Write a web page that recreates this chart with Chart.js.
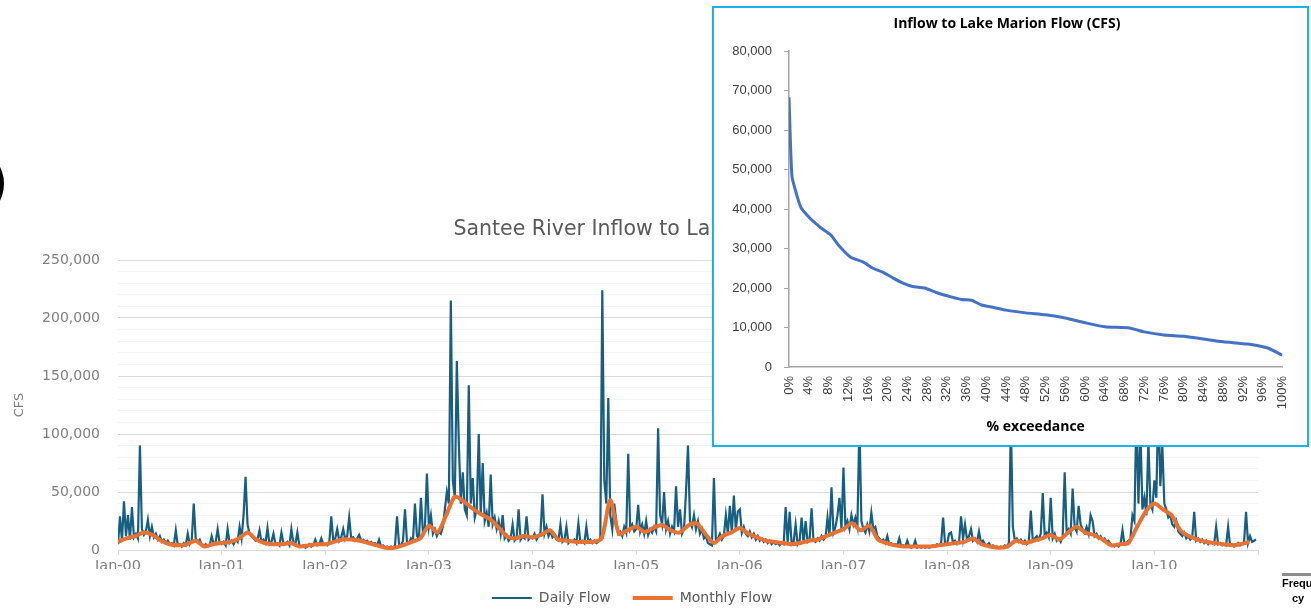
<!DOCTYPE html>
<html>
<head>
<meta charset="utf-8">
<script src="https://cdn.jsdelivr.net/npm/chart.js@4.4.1/dist/chart.umd.min.js"></script>
<style>
  html, body { margin: 0; padding: 0; background: #fff; }
  body { width: 1311px; height: 609px; overflow: hidden; position: relative; }
  #main { position: absolute; left: 6px; top: 215px; width: 1305px; height: 400px; }
  #inset { position: absolute; left: 712px; top: 6px; width: 593px; height: 437px;
           border: 2px solid #1cb1ea; background: #fff; }
  #paren { position: absolute; left: -13px; top: 149px; font: 56px "DejaVu Sans"; color: #000; }
  #freq { position: absolute; left: 1282px; top: 573px; width: 60px; height: 40px;
          border-top: 3px solid #8c8c8c; font: bold 11px "Liberation Sans"; color: #000;
          line-height: 15px; white-space: nowrap; }
</style>
</head>
<body>
<div id="paren">)</div>
<div id="main"><canvas id="flowChart"></canvas></div>
<div id="inset"><canvas id="exceedChart"></canvas></div>
<div id="freq"><div>Frequen</div><div style="margin-left:10px">cy</div></div>
<script>
// weekly samples of daily flow, thousand CFS (52 per year)
var flow2000 = [5,29,8,42,12,30,9,37,11,14, 10,90,18,13,16,26,12,20,11,14, 9,12,7,9,6,8,5,6,4,17, 4,5,3,6,4,14,5,8,40,10, 7,9,4,3,5,3,4,12,5,7, 18,6];
var flow2001 = [5,7,4,18,6,8,5,9,7,20, 10,30,63,22,14,12,10,8,9,17, 7,9,6,19,5,7,14,5,6,4, 15,6,5,7,4,18,6,5,15,4, 3,4,2,3,5,3,4,9,4,5, 10,5];
var flow2002 = [5,4,6,29,8,10,18,8,11,18, 9,12,28,10,11,8,10,13,8,9, 7,8,6,7,5,6,4,9,3,4, 2,3,2,3,2,4,29,5,4,8, 35,7,6,10,8,40,12,10,45,15, 20,66];
var flow2003 = [20,30,14,18,12,16,14,20,35,50, 40,215,60,45,163,93,40,67,35,30, 142,40,62,28,35,100,30,75,25,32, 20,65,22,28,18,25,14,30,10,13, 8,10,22,8,10,35,9,12,10,29, 9,11];
var flow2004 = [10,14,9,12,15,48,14,20,12,16, 11,13,9,8,22,7,9,20,6,8, 7,9,6,23,7,8,6,20,7,9, 6,8,6,7,10,224,60,40,131,30, 18,40,25,14,16,12,20,15,83,18, 22,16];
var flow2005 = [18,39,16,22,14,25,13,18,15,20, 16,105,30,22,50,18,25,14,20,16, 55,20,35,14,18,50,90,25,20,30, 18,25,14,18,10,12,6,5,4,62, 8,10,14,9,12,30,14,38,15,47, 18,33];
var flow2006 = [35,15,20,14,12,16,11,14,9,12, 8,10,7,9,6,8,5,7,5,6, 4,6,5,37,6,33,5,7,22,5, 8,28,6,25,7,9,36,8,7,10, 8,12,9,11,28,12,54,15,20,30, 45,18];
var flow2007 = [71,20,25,18,30,22,28,20,110,25, 18,15,22,16,32,18,20,12,10,8, 9,6,12,5,6,4,5,4,10,3, 4,3,8,3,2,3,8,2,3,2, 3,2,3,2,3,4,3,5,4,6, 28,5];
var flow2008 = [5,14,15,6,8,5,7,29,10,22, 9,12,18,8,10,7,16,6,8,5, 4,6,3,4,2,3,2,3,2,4, 3,6,110,20,8,10,7,9,6,8, 5,7,34,8,10,12,9,14,49,12, 15,11];
var flow2009 = [45,10,14,8,10,7,12,67,15,18, 14,53,20,16,38,22,18,15,20,14, 30,25,12,14,10,12,9,10,7,8, 5,4,3,4,3,5,17,5,6,8, 10,30,25,120,40,105,35,45,30,95, 40,35];
var flow2010 = [60,45,130,55,90,40,35,28,30,22, 20,25,16,14,12,15,10,12,9,11, 33,8,10,7,9,6,8,5,7,6, 5,20,5,6,4,5,4,20,4,5, 3,4,6,4,5,7,33,6,12,7, 8,9];

// monthly flow, thousand CFS, Jan-2000 .. Dec-2010
var monthlyFlow = [
  7,10,12,15,13,8,5,4,5,8,3,5,
  6,7,10,15,9,6,5,5,6,3,4,5,
  5,7,9,9,8,6,4,2,2,4,7,10,
  21,15,30,46,42,36,31,27,20,12,10,12,
  11,13,17,9,8,7,7,7,10,43,14,17,
  20,15.5,19,21.5,17,15,21,23,14,6,12,15,
  19,14,11,8,7,6,5,6,8,9,12,15,
  18,23,17,21,9,6,4,3,3,3,3,4,
  5,6,7,10,5,3,2,3,8,6,8,10,
  13,9,15,20,15,13,9,4,5,6,20,33,
  40,35,30,17,12,9,7,6,5,4,5,7
];

var yearLabels = ['Jan-00','Jan-01','Jan-02','Jan-03','Jan-04','Jan-05','Jan-06','Jan-07','Jan-08','Jan-09','Jan-10'];

// flow duration curve
var exceedPct = [0,0.6,1.7,2.5,4,5,6.5,8.5,10,12.5,15,17,19,21,23,25,27.5,30,33,35,37,39,41,44,48,52,56,60,64,69,72,76,80,84,88,93,97,100];
var exceedFlow = [68300,48300,43000,40200,38000,36800,35200,33400,30900,27800,26600,25000,24000,22600,21300,20400,20000,18800,17700,17100,16900,15700,15200,14400,13700,13200,12400,11200,10200,9900,8900,8100,7800,7100,6400,5800,4800,3000];

var dailyByYear = [flow2000, flow2001, flow2002, flow2003, flow2004, flow2005,
                   flow2006, flow2007, flow2008, flow2009, flow2010];

var dailyPoints = [];
dailyByYear.forEach(function (weeks, yr) {
    weeks.forEach(function (v, i) {
        dailyPoints.push({ x: yr + i / weeks.length, y: v * 1000 });
    });
});
var monthlyPoints = monthlyFlow.map(function (v, m) { return { x: m / 12, y: v * 1000 }; });

var grayText = '#7f7f7f';

new Chart(document.getElementById('flowChart'), {
    type: 'line',
    data: {
        datasets: [
            {
                label: 'Daily Flow',
                data: dailyPoints,
                borderColor: '#175e80',
                backgroundColor: '#175e80',
                borderWidth: 2.2,
                pointRadius: 0,
                pointStyle: 'line',
                order: 2
            },
            {
                label: 'Monthly Flow',
                data: monthlyPoints,
                borderColor: '#E97132',
                backgroundColor: '#E97132',
                borderWidth: 4,
                pointRadius: 0,
                pointStyle: 'line',
                tension: 0.25,
                order: 1
            }
        ]
    },
    options: {
        responsive: true,
        maintainAspectRatio: false,
        animation: false,
        layout: { padding: { left: 0, right: 53, top: 0, bottom: 0 } },
        plugins: {
            title: {
                display: true,
                text: 'Santee River Inflow to Lake Marion',
                color: '#595959',
                font: { family: 'DejaVu Sans', size: 20.5, weight: 'normal' },
                padding: { top: 2, bottom: 18.4 }
            },
            legend: {
                position: 'bottom',
                labels: {
                    usePointStyle: true,
                    pointStyleWidth: 40,
                    color: '#595959',
                    font: { family: 'DejaVu Sans', size: 14 },
                    padding: 22,
                    sort: function (a, b) { return a.datasetIndex - b.datasetIndex; }
                }
            },
            tooltip: { enabled: false }
        },
        scales: {
            x: {
                type: 'linear',
                min: 0,
                max: 11,
                ticks: {
                    stepSize: 1,
                    autoSkip: false,
                    maxRotation: 0,
                    color: grayText,
                    font: { family: 'DejaVu Sans', size: 14.5 },
                    padding: 3,
                    callback: function (v) { return yearLabels[v] || ''; }
                },
                grid: { drawOnChartArea: false, drawTicks: true, tickLength: 5, color: '#d9d9d9' },
                border: { display: false },
                afterFit: function (s) { s.height = 19; }
            },
            y: {
                min: 0,
                max: 250000,
                ticks: {
                    stepSize: 10000,
                    autoSkip: false,
                    color: grayText,
                    font: { family: 'DejaVu Sans', size: 14 },
                    padding: 18,
                    callback: function (v) { return v % 50000 === 0 ? v.toLocaleString('en-US') : ''; }
                },
                grid: {
                    drawTicks: false,
                    color: function (c) { return c.tick && c.tick.value % 50000 === 0 ? '#d9d9d9' : '#f3f3f3'; }
                },
                border: { display: false },
                title: {
                    display: true,
                    text: 'CFS',
                    color: grayText,
                    font: { family: 'DejaVu Sans', size: 13 },
                    padding: { top: 6, bottom: 0 }
                },
                afterFit: function (s) { s.width = 112; }
            }
        }
    }
});

new Chart(document.getElementById('exceedChart'), {
    type: 'line',
    data: {
        datasets: [{
            label: 'Flow',
            data: exceedPct.map(function (p, i) { return { x: p, y: exceedFlow[i] }; }),
            borderColor: '#4472C4',
            borderWidth: 3,
            pointRadius: 0,
            tension: 0.2
        }]
    },
    options: {
        responsive: true,
        maintainAspectRatio: false,
        animation: false,
        layout: { padding: { left: 0, right: 7, top: 0, bottom: 0 } },
        plugins: {
            legend: { display: false },
            tooltip: { enabled: false },
            title: {
                display: true,
                text: 'Inflow to Lake Marion Flow (CFS)',
                color: '#000',
                font: { family: 'Open Sans', size: 14, weight: 'bold' },
                padding: { top: 7.6, bottom: 18.6 }
            }
        },
        scales: {
            x: {
                type: 'linear',
                min: 0,
                max: 100,
                ticks: {
                    stepSize: 4,
                    autoSkip: false,
                    minRotation: 90,
                    maxRotation: 90,
                    color: '#404040',
                    font: { family: 'Liberation Sans', size: 13 },
                    padding: 9,
                    callback: function (v) { return v + '%'; }
                },
                grid: { display: false, drawTicks: false },
                border: { display: true, color: '#a6a6a6', width: 1.5 },
                title: {
                    display: true,
                    text: '% exceedance',
                    color: '#000',
                    font: { family: 'Open Sans', size: 14, weight: 'bold' },
                    padding: { top: 0, bottom: 9.6 }
                },
                afterFit: function (s) { s.height = 78; }
            },
            y: {
                min: 0,
                max: 80000,
                ticks: {
                    stepSize: 10000,
                    color: '#404040',
                    font: { family: 'Liberation Sans', size: 13 },
                    padding: 12,
                    callback: function (v) { return v.toLocaleString('en-US'); }
                },
                grid: { drawOnChartArea: false, drawTicks: true, tickLength: 5, color: '#a6a6a6' },
                border: { display: true, color: '#a6a6a6', width: 1.5 },
                afterFit: function (s) { s.width = 75; }
            }
        }
    }
});
</script>
</body>
</html>
